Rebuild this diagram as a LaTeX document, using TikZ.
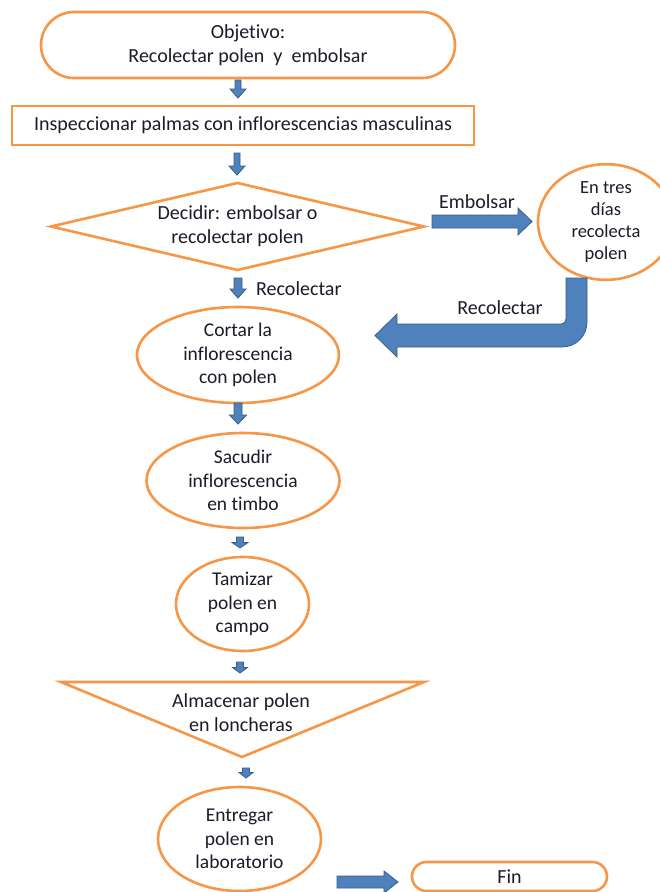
\documentclass[tikz,border=0pt]{standalone}
\usepackage{fontspec}
\setmainfont{Carlito}[Ligatures=NoCommon]
\usetikzlibrary{shapes.geometric}
\definecolor{org}{HTML}{F79646}
\definecolor{blfill}{HTML}{4F81BD}
\definecolor{blline}{HTML}{385D8A}
\definecolor{txt}{HTML}{1E1A2A}
% block arrow pointing down: x, ytop, ybot, shaft half, head half, head length
\newcommand\blkdown[6]{%
  \filldraw[blk] (#1-#4,#2) -- (#1+#4,#2) -- (#1+#4,#3-#6) -- (#1+#5,#3-#6) -- (#1,#3)
    -- (#1-#5,#3-#6) -- (#1-#4,#3-#6) -- cycle;}
% block arrow pointing right: y, xleft, xright, shaft half, head half, head length
\newcommand\blkright[6]{%
  \filldraw[blk] (#2,#1-#4) -- (#3-#6,#1-#4) -- (#3-#6,#1-#5) -- (#3,#1) -- (#3-#6,#1+#5)
    -- (#3-#6,#1+#4) -- (#2,#1+#4) -- cycle;}
\begin{document}
\begin{tikzpicture}[x=1pt,y=-1pt,
  blk/.style={fill=blfill,draw=blline,line width=0.8pt,line join=miter},
  orgline/.style={draw=org,line width=2.6pt},
  txtfont/.style={font=\fontsize{20}{24}\selectfont,text=txt,align=center},
  ellfont/.style={font=\fontsize{19.5}{23.5}\selectfont,text=txt,align=center},
  ell/.style={ellipse,orgline,inner sep=0pt,ellfont},
  stadium/.style={rectangle,orgline,inner sep=0pt,txtfont},
  lbl/.style={txtfont,inner sep=0pt}]
\useasboundingbox (0,0) rectangle (659,892);
\fill[white] (0,0) rectangle (659,892);

% Objective
\node[stadium,rounded corners=33pt,minimum width=414pt,minimum height=66pt] (obj) at (248,45)
  {Objetivo:\\Recolectar polen\ \ y\ \ embolsar};
\blkdown{238}{80}{98}{3}{8}{9}

% Inspect
\node[rectangle,orgline,inner sep=0pt,minimum width=462pt,minimum height=39pt,txtfont] (insp) at (243,125.5)
  {Inspeccionar palmas con inflorescencias masculinas};
\blkdown{237}{153}{175}{3}{8}{9}

% Decision diamond
\coordinate (dL) at (51,226.5);
\coordinate (dT) at (237.5,183);
\coordinate (dR) at (424,226.5);
\coordinate (dB) at (237.5,270);
\draw[orgline,line join=miter] (dL) -- (dT) -- (dR) -- (dB) -- cycle;
\node[lbl] (dec) at (237.5,226) {Decidir: embolsar o\\recolectar polen};

% Embolsar
\blkright{221.5}{432}{532}{6.5}{13.5}{14}
\node[lbl] (lemb) at (477,202) {Embolsar};
\node[ell,minimum width=136pt,minimum height=92pt,font=\fontsize{18.5}{22.3}\selectfont] (tres) at (606,222)
  {En tres\\días\\recolecta\\polen};

% Recolectar (down)
\blkdown{238}{278}{298}{4}{8}{9}
\node[lbl,anchor=west] (lrec1) at (256,289) {Recolectar};

% U-turn arrow
\filldraw[blk] (566,278) -- (587,278) -- (587,322)
  .. controls (587,336) and (576,347) .. (562,347)
  -- (397,347) -- (397,357) -- (375,335.5) -- (397,314) -- (397,324) -- (561,324)
  .. controls (564,324) and (566,322) .. (566,319) -- cycle;
\node[lbl] (lrec2) at (500,308) {Recolectar};

% Cortar
\node[ell,minimum width=202pt,minimum height=96pt] (cortar) at (238,355)
  {Cortar la\\inflorescencia\\con polen};
\blkdown{238}{403}{424}{4}{8.5}{9}

% Sacudir
\node[ell,minimum width=193pt,minimum height=95pt] (sacudir) at (243,480.5)
  {Sacudir\\inflorescencia\\en timbo};
\blkdown{240}{537}{548}{3.5}{8}{5.5}

% Tamizar
\node[ell,minimum width=133pt,minimum height=94pt] (tamizar) at (242.5,604)
  {Tamizar\\polen en\\campo};
\blkdown{240}{662}{673}{3.5}{7.5}{5.5}

% Almacenar triangle
\coordinate (tL) at (61,682);
\coordinate (tR) at (424,682);
\coordinate (tB) at (242,757);
\draw[orgline,line join=miter] (tL) -- (tR) -- (tB) -- cycle;
\node[lbl] (alm) at (241,712.5) {Almacenar polen\\en loncheras};
\blkdown{246}{768}{778}{3.5}{7}{5.5}

% Entregar
\node[ell,minimum width=163pt,minimum height=104pt] (entregar) at (239.5,839)
  {Entregar\\polen en\\laboratorio};
\blkright{882}{337}{398}{6}{11}{14}

% Fin
\node[stadium,rounded corners=14.5pt,minimum width=195pt,minimum height=29pt] (fin) at (509.5,876.5) {Fin};
\end{tikzpicture}
\end{document}
